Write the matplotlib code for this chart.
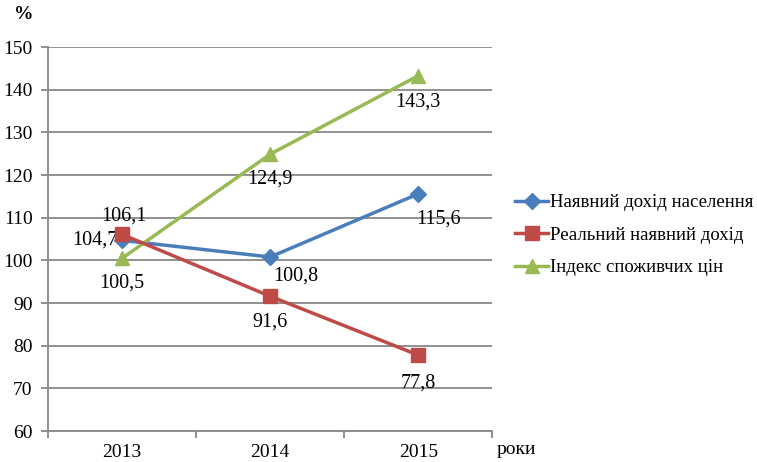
import matplotlib.pyplot as plt
import numpy as np

plt.rcParams['font.family'] = ['Liberation Serif', 'DejaVu Serif']

years = ['2013', '2014', '2015']
income = [104.7, 100.8, 115.6]
real_income = [106.1, 91.6, 77.8]
cpi = [100.5, 124.9, 143.3]
labels = ['Наявний дохід населення', 'Реальний наявний дохід', 'Індекс споживчих цін']

fig = plt.figure(figsize=(7.57, 4.62), dpi=100)
ax = fig.add_axes([0.0634, 0.067, 0.587, 0.831])

x = np.arange(len(years)) + 0.5
ax.plot(x, income, color='#4A7EBB', lw=2.5, marker='D', ms=8, label=labels[0], zorder=3)
ax.plot(x, real_income, color='#BE4B48', lw=2.5, marker='s', ms=10.5, label=labels[1], zorder=4)
ax.plot(x, cpi, color='#98B954', lw=2.5, marker='^', ms=10.5, label=labels[2], zorder=3)

fs = 14
def fmt(v):
    return f'{v:.1f}'.replace('.', ',')

def lab(val, xi, dx, dy):
    # offsets in pixels, dy positive = down
    ax.annotate(fmt(val), (x[xi], val), xytext=(dx, -dy), textcoords='offset pixels',
                ha='center', va='center', fontsize=14.5)

lab(income[0], 0, -27, 0)
lab(income[1], 1, 26, 19)
lab(income[2], 2, 20, 25)
lab(real_income[0], 0, 2, -18)
lab(real_income[1], 1, 0, 26)
lab(real_income[2], 2, 0, 28)
lab(cpi[0], 0, 0, 25)
lab(cpi[1], 1, 0, 25)
lab(cpi[2], 2, 0, 26)

ax.set_xlim(0, 3)
ax.set_ylim(60, 150)
ax.set_yticks(np.arange(60, 151, 10))
ax.set_xticks(x)
ax.set_xticklabels(years)
ax.set_xticks([0, 1, 2, 3], minor=True)
ax.tick_params(axis='x', which='major', length=0, pad=9, labelsize=fs)
ax.tick_params(axis='x', which='minor', length=5, color='#888888', width=1.3)
ax.tick_params(axis='y', length=5, color='#888888', width=1.3, labelsize=fs, pad=6)
ax.grid(axis='y', color='#888888', lw=1.3)
ax.set_axisbelow(True)
for s in ('top', 'right'):
    ax.spines[s].set_visible(False)
for s in ('left', 'bottom'):
    ax.spines[s].set_color('#888888')
    ax.spines[s].set_linewidth(1.3)

fig.text(0.018, 0.968, '%', fontsize=fs, fontweight='bold', va='center')
fig.text(0.656, 0.026, 'роки', fontsize=fs, va='center')

ax.legend(loc='center left', bbox_to_anchor=(1.052, 0.51), frameon=False, fontsize=13.5,
          handlelength=1.75, handletextpad=0.1, labelspacing=0.82, borderpad=0, borderaxespad=0)

fig.savefig('out.png', dpi=100)
